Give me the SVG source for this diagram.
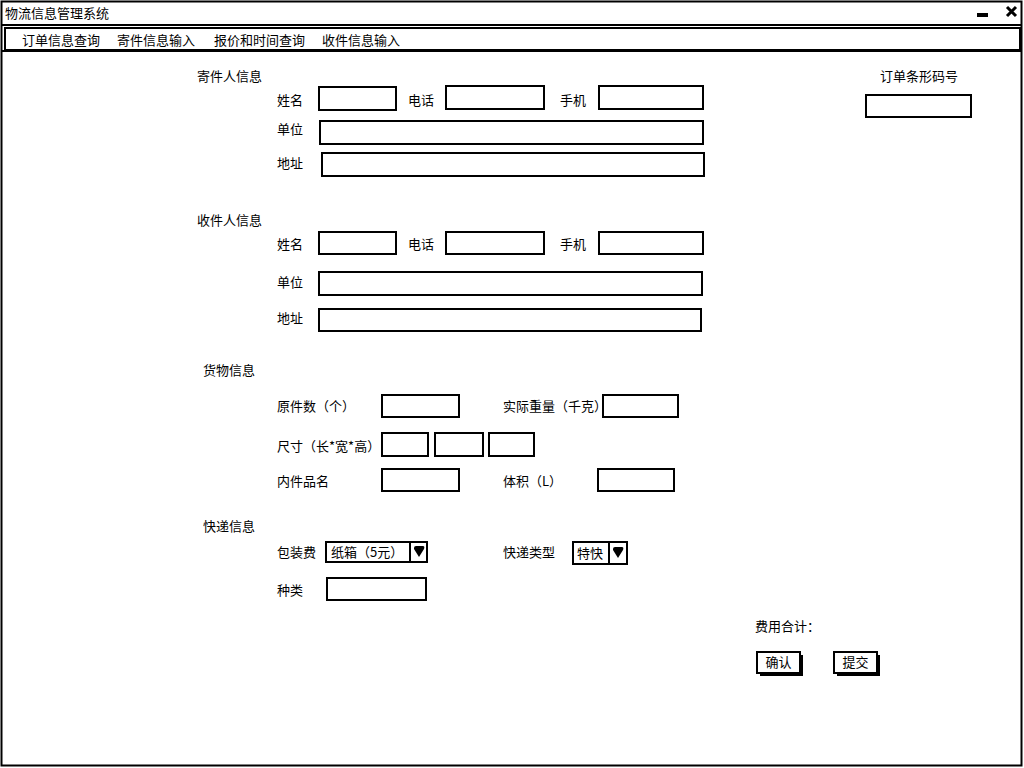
<svg xmlns="http://www.w3.org/2000/svg" width="1024" height="768" viewBox="0 0 1024 768">
<style>
text{font-family:"Noto Sans CJK SC","Liberation Sans",sans-serif;font-size:13px;fill:#000}
.box{fill:#fff;stroke:#000;stroke-width:2}
.frame{fill:none;stroke:#000;stroke-width:2}
.shadow{fill:#000}
</style>
<rect width="1024" height="768" fill="#fff"/>
<g id="window">
<rect class="frame" x="1.5" y="1.5" width="1020" height="764"/>
<line x1="1" y1="25" x2="1022" y2="25" stroke="#000" stroke-width="2"/>
<text x="5" y="18">物流信息管理系统</text>
<rect x="977" y="13" width="11" height="4" fill="#000"/>
<path d="M1007,7 L1016,16 M1016,7 L1007,16" stroke="#000" stroke-width="3" fill="none"/>
</g>
<g id="menubar">
<rect class="frame" x="5" y="28" width="1015" height="22"/>
<line x1="1" y1="51" x2="1022" y2="51" stroke="#000" stroke-width="2"/>
<text x="22" y="45">订单信息查询</text>
<text x="117" y="45">寄件信息输入</text>
<text x="214" y="45">报价和时间查询</text>
<text x="322" y="45">收件信息输入</text>
</g>
<g id="sender">
<text x="197" y="81">寄件人信息</text>
<text x="277" y="105">姓名</text>
<rect class="box" x="319" y="87" width="77" height="23"/>
<text x="408" y="105">电话</text>
<rect class="box" x="446" y="86" width="98" height="23"/>
<text x="560" y="105">手机</text>
<rect class="box" x="599" y="86" width="104" height="23"/>
<text x="277" y="134">单位</text>
<rect class="box" x="320" y="121" width="383" height="23"/>
<text x="277" y="168">地址</text>
<rect class="box" x="322" y="153" width="382" height="23"/>
</g>
<g id="barcode">
<text x="880" y="81">订单条形码号</text>
<rect class="box" x="866" y="95" width="105" height="22"/>
</g>
<g id="receiver">
<text x="197" y="225">收件人信息</text>
<text x="277" y="249">姓名</text>
<rect class="box" x="319" y="232" width="77" height="22"/>
<text x="408" y="249">电话</text>
<rect class="box" x="446" y="232" width="98" height="22"/>
<text x="560" y="249">手机</text>
<rect class="box" x="599" y="232" width="104" height="22"/>
<text x="277" y="287">单位</text>
<rect class="box" x="319" y="272" width="383" height="23"/>
<text x="277" y="323">地址</text>
<rect class="box" x="319" y="309" width="382" height="22"/>
</g>
<g id="goods">
<text x="203" y="375">货物信息</text>
<text x="277" y="411">原件数（个）</text>
<rect class="box" x="382" y="395" width="77" height="22"/>
<text x="503" y="411">实际重量（千克）</text>
<rect class="box" x="603" y="395" width="75" height="22"/>
<text x="277" y="451">尺寸（长*宽*高）</text>
<rect class="box" x="382" y="433" width="46" height="23"/>
<rect class="box" x="435" y="433" width="48" height="23"/>
<rect class="box" x="489" y="433" width="45" height="23"/>
<text x="277" y="486">内件品名</text>
<rect class="box" x="382" y="469" width="77" height="22"/>
<text x="503" y="486">体积（L）</text>
<rect class="box" x="598" y="469" width="76" height="22"/>
</g>
<g id="express">
<text x="203" y="531">快递信息</text>
<text x="277" y="557">包装费</text>
<rect class="box" x="326" y="542" width="101" height="20"/>
<line x1="410" y1="542" x2="410" y2="562" stroke="#000" stroke-width="2"/>
<text x="331" y="557">纸箱（5元）</text>
<path d="M414,548 Q414,546 416,546 L423,546 Q425,546 424,549 L419,557 L414,549 Z" fill="#000"/>
<text x="503" y="557">快递类型</text>
<rect class="box" x="573" y="542" width="54" height="22"/>
<line x1="609" y1="542" x2="609" y2="564" stroke="#000" stroke-width="2"/>
<text x="577" y="558">特快</text>
<path d="M613,549 Q613,547 615,547 L622,547 Q624,547 623,550 L618,558 L613,550 Z" fill="#000"/>
<text x="277" y="595">种类</text>
<rect class="box" x="327" y="578" width="99" height="22"/>
</g>
<g id="total">
<text x="755" y="631">费用合计：</text>
</g>
<g id="btn-confirm">
<rect class="shadow" x="760" y="655" width="43" height="21"/>
<rect class="box" x="757" y="652" width="43" height="21"/>
<text x="778.5" y="667" text-anchor="middle">确认</text>
</g>
<g id="btn-submit">
<rect class="shadow" x="837" y="655" width="43" height="21"/>
<rect class="box" x="834" y="652" width="43" height="21"/>
<text x="855.5" y="667" text-anchor="middle">提交</text>
</g>
<g id="connectors"></g>
</svg>
